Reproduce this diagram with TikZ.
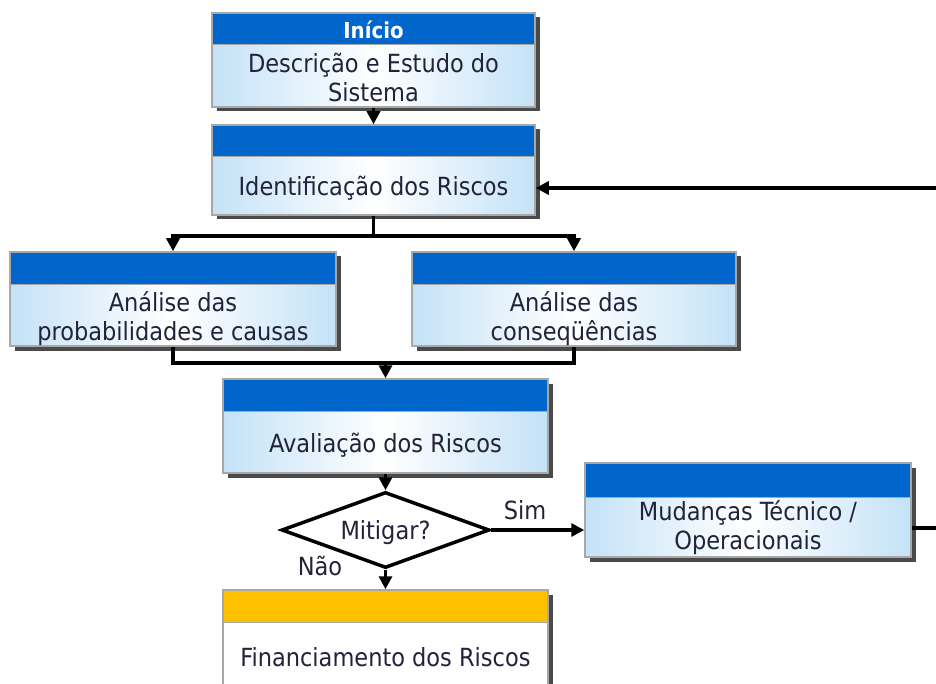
\documentclass[tikz,border=0pt]{standalone}
\usepackage{fontspec}
\setmainfont{DejaVu Sans Condensed}
\usetikzlibrary{arrows.meta,shapes.geometric,shadows}
\definecolor{hdrblue}{HTML}{0066CC}
\definecolor{hdryellow}{HTML}{FFC000}
\definecolor{bodyblue}{HTML}{C4E2F7}
\definecolor{framec}{HTML}{A8A8A8}
\definecolor{shadowc}{HTML}{4A4A4A}
\definecolor{txtc}{HTML}{22223A}
\tikzset{
  riskframe/.style={rectangle, draw=framec, line width=1.5pt, inner sep=0pt,
    drop shadow={shadow xshift=4.5pt, shadow yshift=-4.5pt, fill=shadowc, opacity=1}},
  bluebody/.style={left color=bodyblue, right color=bodyblue, middle color=white},
  whitebody/.style={fill=white},
  lbl/.style={font=\fontsize{25}{29}\selectfont, text=txtc, align=center, inner sep=0pt},
  hdrtxt/.style={font=\fontsize{22}{26}\selectfont\bfseries, text=white, inner sep=0pt},
  line/.style={draw=black, line width=3.5pt},
  conn/.style={line, -{Triangle[length=13pt,width=13pt]}},
  decision/.style={diamond, draw=black, line width=3.5pt, fill=white, inner sep=0pt,
    aspect=2.7, minimum width=208pt, minimum height=76pt}
}
% name, x1, y1, x2, y2, header bottom, header colour, body style
\newcommand\riskbox[8]{%
  \node[riskframe, #8, minimum width={(#4-#2)*1pt}, minimum height={(#5-#3)*1pt}]
    (#1) at ({(#2+#4)/2},{(#3+#5)/2}) {};
  \fill[#7] ({#2+1},{#3+1}) rectangle ({#4-1},#6);
  \draw[framec, line width=1pt] ({#2+1},#6) -- ({#4-1},#6);
}
\begin{document}
\begin{tikzpicture}[x=1pt,y=-1pt]
\useasboundingbox (0,0) rectangle (936,684);
\clip (0,0) rectangle (936,684);
\fill[white] (0,0) rectangle (936,684);

\riskbox{b1}{212}{13}{535}{107}{45}{hdrblue}{bluebody}
\node[hdrtxt] (b1h) at (373.5,30) {Início};
\node[lbl] (b1t) at (373.5,77) {Descrição e Estudo do\\Sistema};

\riskbox{b2}{212}{125}{535}{215}{157}{hdrblue}{bluebody}
\node[lbl] (b2t) at (373.5,188) {Identificação dos Riscos};

\riskbox{b3}{10}{252}{336}{346}{285}{hdrblue}{bluebody}
\node[lbl] (b3t) at (173,319) {Análise das\\probabilidades e causas};

\riskbox{b4}{412}{252}{736}{346}{285}{hdrblue}{bluebody}
\node[lbl] (b4t) at (574,319) {Análise das\\conseqüências};

\riskbox{b5}{223}{379}{548}{473}{411}{hdrblue}{bluebody}
\node[lbl] (b5t) at (385.5,445) {Avaliação dos Riscos};

\riskbox{b6}{585}{463}{911}{557}{497}{hdrblue}{bluebody}
\node[lbl] (b6t) at (748,528) {Mudanças Técnico /\\Operacionais};

\riskbox{b7}{223}{590}{548}{692}{622}{hdryellow}{whitebody}
\node[lbl] (b7t) at (385.5,657) {Financiamento dos Riscos};

\node[decision] (d) at (385.5,530) {};
\node[lbl] (dt) at (385.5,533) {Mitigar?};
\node[lbl] (sim) at (525,510) {Sim};
\node[lbl] (nao) at (320,566) {Não};

% connectors
\draw[conn] (b1) -- (b2);
\coordinate (j1) at (373.5,236);
\draw[line] (b2.south) -- (j1);
\draw[conn] (j1) -| (b3.north);
\draw[conn] (j1) -| (b4.north);
\coordinate (j2) at (385.5,363);
\draw[line] (b3.south) |- (j2) -| (b4.south);
\draw[conn] (j2) -- (b5.north);
\draw[conn] (b5) -- (d);
\draw[conn] (d.east) -- (d.east -| b6.west);
\draw[conn] (d) -- (b7);
\coordinate (fb) at (940,188);
\draw[conn] (fb) -- (fb -| b2.east);
\coordinate (out) at (940,528);
\draw[line] (out -| b6.east) -- (out);
\end{tikzpicture}
\end{document}
